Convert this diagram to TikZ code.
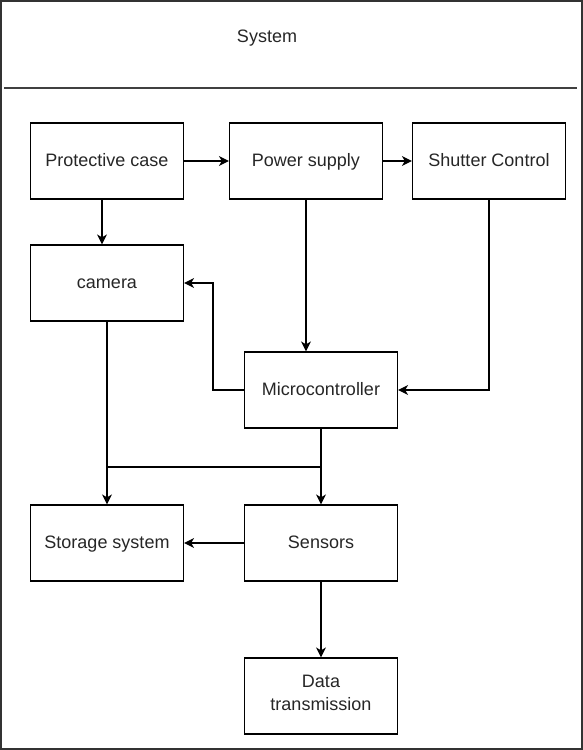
\documentclass[tikz,border=0pt]{standalone}
\usepackage{fontspec}
\setmainfont{Liberation Sans}
\usetikzlibrary{positioning,arrows.meta}

\newcommand{\vprop}{\rule[-6.5pt]{0pt}{24pt}}

\begin{document}
\begin{tikzpicture}[x=1pt, y=-1pt,
  block/.style={draw, line width=1.2pt, minimum width=153pt, minimum height=76pt, align=center, inner sep=2pt, text=black!85, font=\fontsize{18}{23}\selectfont, execute at begin node=\vprop},
  arr/.style={line width=1.2pt, -{Stealth[length=10pt, width=10pt, inset=3pt]}},
  link/.style={line width=1.2pt}]
  \useasboundingbox (0,0) rectangle (583,750);
  % frame and title
  \draw[line width=2pt, black!80] (1,1) rectangle (581.5,748.5);
  \node[text=black!85, font=\fontsize{18}{23}\selectfont] (title) at (267,38) {System};
  \draw[line width=1.2pt, black!75] (4,88) -- (577,88);
  % blocks
  \node[block] (pcase) at (107,161) {Protective case};
  \node[block] (power) at (306,161) {Power supply};
  \node[block] (shutter) at (489,161) {Shutter Control};
  \node[block] (camera) at (107,283) {camera};
  \node[block] (micro) at (321,390) {Microcontroller};
  \node[block] (storage) at (107,543) {Storage system};
  \node[block] (sensors) at (321,543) {Sensors};
  \node[block, execute at begin node={\rule{0pt}{17pt}}] (datatx) at (321,696) {Data\\transmission};
  % connectors
  \draw[arr] (pcase) -- (power);
  \draw[arr] (power) -- (shutter);
  \draw[arr] ([xshift=-5pt]pcase.south) -- ([xshift=-5pt]camera.north);
  \draw[arr] (power.south) -- (power.south |- micro.north);
  \draw[arr] (shutter.south) |- (micro.east);
  \draw[arr] (micro.west) -- ++(-31,0) |- (camera.east);
  \draw[arr] (camera.south) -- (storage.north);
  \draw[arr] (micro.south) -- (sensors.north);
  \coordinate (join) at (107,467);
  \draw[link] (join) -- (join -| micro.south);
  \draw[arr] (sensors) -- (storage);
  \draw[arr] (sensors) -- (datatx);
\end{tikzpicture}
\end{document}
